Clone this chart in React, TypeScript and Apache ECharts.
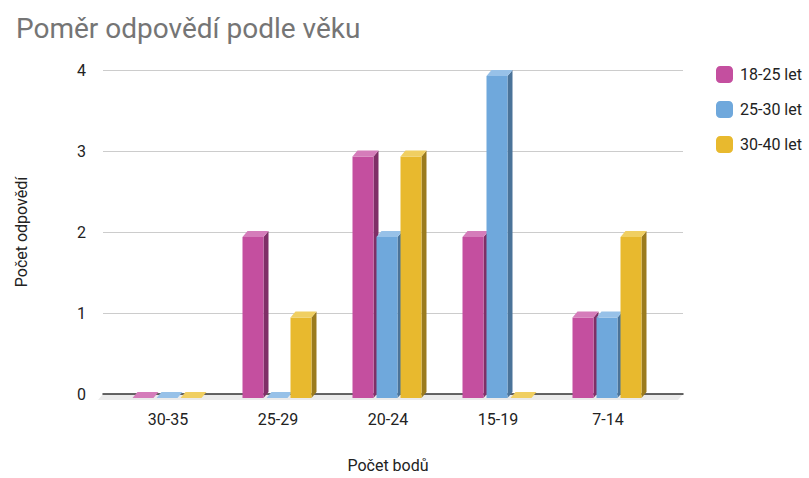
import React, { useEffect, useRef } from "react";
import * as echarts from "echarts";

const categories = ["30-35", "25-29", "20-24", "15-19", "7-14"];
const seriesNames = ["18-25 let", "25-30 let", "30-40 let"];
const values18_25 = [0, 2, 3, 2, 1];
const values25_30 = [0, 0, 2, 4, 1];
const values30_40 = [0, 1, 3, 0, 2];
const yTicks = [0, 1, 2, 3, 4];

const palettes = [
  { front: "#c44f9f", side: "#7f2f67", top: "#d57cba" },
  { front: "#6fa8dc", side: "#4a7399", top: "#97c1e8" },
  { front: "#e8b92e", side: "#9b7b1e", top: "#f0cf62" },
];

const DX = 5;
const DY = 6;
const BAR_W = 21;
const PITCH = 24;

export default function App() {
  const ref = useRef<HTMLDivElement>(null);
  useEffect(() => {
    if (!ref.current) return;
    const chart = echarts.init(ref.current, null, { renderer: "svg" });
    const all = [values18_25, values25_30, values30_40];
    const font = "Roboto";

    const barSeries = all.map((vals, si) => ({
      type: "custom",
      name: seriesNames[si],
      xAxisIndex: 1,
      yAxisIndex: 1,
      z: 5,
      itemStyle: { color: palettes[si].front },
      data: vals.map((v, i) => [i, v]),
      renderItem: (params: any, api: any) => {
        const idx = api.value(0);
        const val = api.value(1);
        const c0 = api.coord([idx, 0]);
        const c1 = api.coord([idx, val]);
        const cx = c0[0] - 1 + (si - 1) * PITCH;
        const fx = cx - BAR_W / 2;
        const topF = c1[1] + DY;
        const botF = c0[1] + DY;
        const p = palettes[si];
        const children: any[] = [];
        if (botF - topF > 0.5) {
          children.push({
            type: "polygon",
            shape: { points: [[fx + BAR_W, topF], [fx + BAR_W + DX, topF - DY], [fx + BAR_W + DX, botF - DY], [fx + BAR_W, botF]] },
            style: { fill: p.side },
          });
          children.push({
            type: "rect",
            shape: { x: fx, y: topF, width: BAR_W, height: botF - topF },
            style: { fill: p.front },
          });
        }
        children.push({
          type: "polygon",
          shape: { points: [[fx, topF], [fx + BAR_W, topF], [fx + BAR_W + DX, topF - DY], [fx + DX, topF - DY]] },
          style: { fill: p.top },
        });
        return { type: "group", children };
      },
    }));

    const floorSeries = {
      type: "custom",
      xAxisIndex: 0,
      yAxisIndex: 0,
      z: 1,
      silent: true,
      data: [[0, 0]],
      renderItem: (params: any, api: any) => {
        const cs = params.coordSys;
        const y0 = api.coord([0, 0])[1];
        const x0 = cs.x;
        const x1 = cs.x + cs.width;
        return {
          type: "polygon",
          shape: { points: [[x0, y0], [x1, y0], [x1 - DX, y0 + DY], [x0 - DX, y0 + DY]] },
          style: { fill: "#ebebeb" },
        };
      },
    };

    chart.setOption({
      animation: false,
      backgroundColor: "#ffffff",
      title: {
        text: "Poměr odpovědí podle věku",
        left: 11,
        top: 9,
        textStyle: { fontFamily: font, fontSize: 28, fontWeight: "normal", color: "#757575" },
      },
      legend: {
        orient: "vertical",
        left: 711,
        top: 61,
        itemWidth: 17,
        itemHeight: 17,
        itemGap: 18,
        icon: "roundRect",
        data: seriesNames,
        textStyle: { fontFamily: font, fontSize: 16, color: "#222222", padding: [0, 0, 0, 2] },
      },
      grid: [
        { left: 103, right: 126, top: 70, bottom: 84 },
        { left: 113, right: 146, top: 70, bottom: 84 },
      ],
      xAxis: [
        {
          gridIndex: 0,
          type: "value",
          min: 0,
          max: 1,
          axisLabel: { show: false },
          axisTick: { show: false },
          splitLine: { show: false },
          axisLine: { show: true, onZero: true, lineStyle: { color: "#333333", width: 1.5 } },
          z: 3,
        },
        {
          gridIndex: 1,
          type: "category",
          data: categories,
          axisLine: { show: false },
          axisTick: { show: false },
          axisLabel: { margin: 19, fontFamily: font, fontSize: 16, color: "#222222" },
          name: "Počet bodů",
          nameLocation: "middle",
          nameGap: 65,
          nameTextStyle: { fontFamily: font, fontSize: 16, color: "#222222" },
        },
      ],
      yAxis: [
        {
          gridIndex: 0,
          type: "value",
          min: yTicks[0],
          max: yTicks[yTicks.length - 1],
          interval: 1,
          axisLine: { show: false },
          axisTick: { show: false },
          axisLabel: { margin: 17, fontFamily: font, fontSize: 16, color: "#222222" },
          splitLine: { lineStyle: { color: "#cccccc", width: 1 } },
          name: "Počet odpovědí",
          nameLocation: "middle",
          nameRotate: 90,
          nameGap: 74,
          nameTextStyle: { fontFamily: font, fontSize: 16, color: "#222222" },
        },
        {
          gridIndex: 1,
          type: "value",
          min: yTicks[0],
          max: yTicks[yTicks.length - 1],
          interval: 1,
          show: false,
        },
      ],
      series: [floorSeries, ...barSeries],
    });
    return () => chart.dispose();
  }, []);
  return <div ref={ref} style={{ width: 809, height: 478, position: "absolute", left: 0, top: 0 }} />;
}
